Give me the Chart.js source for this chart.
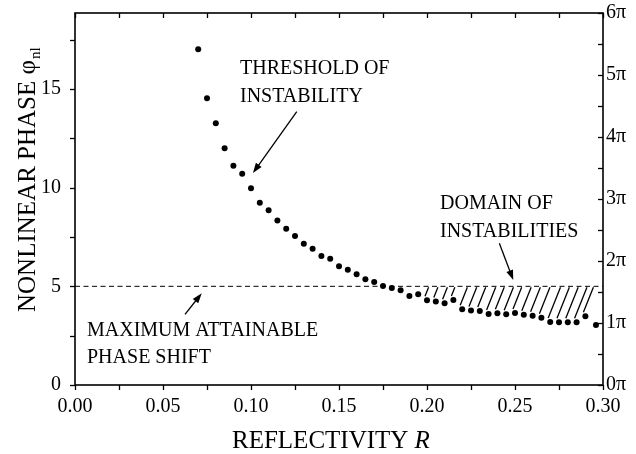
<!DOCTYPE html>
<html>
<head>
<meta charset="utf-8">
<script src="https://cdn.jsdelivr.net/npm/chart.js@4/dist/chart.umd.min.js"></script>
<style>
  html, body { margin: 0; padding: 0; background: #fff; }
  #wrap { width: 636px; height: 454px; position: relative; }
</style>
</head>
<body>
<div id="wrap"><canvas id="c" width="636" height="454"></canvas></div>
<script>
// ---- data ----
const reflectivity = [0.070,0.075,0.080,0.085,0.090,0.095,0.100,0.105,0.110,0.115,
  0.120,0.125,0.130,0.135,0.140,0.145,0.150,0.155,0.160,0.165,
  0.170,0.175,0.180,0.185,0.190,0.195,0.200,0.205,0.210,0.215,
  0.220,0.225,0.230,0.235,0.240,0.245,0.250,0.255,0.260,0.265,
  0.270,0.275,0.280,0.285,0.290,0.296];
const thresholdPhase = [17.01,14.53,13.26,12.00,11.11,10.71,9.97,9.24,8.85,8.33,
  7.92,7.55,7.16,6.91,6.54,6.40,6.02,5.84,5.61,5.36,
  5.22,5.02,4.92,4.80,4.51,4.60,4.29,4.23,4.14,4.31,
  3.84,3.77,3.75,3.60,3.63,3.58,3.65,3.56,3.51,3.41,
  3.19,3.18,3.18,3.18,3.48,3.04];
const maxAttainablePhase = 5.0;
const xRange = [0, 0.30];
const xTickValues = [0, 0.05, 0.10, 0.15, 0.20, 0.25, 0.30];
const xTickLabels = ['0.00','0.05','0.10','0.15','0.20','0.25','0.30'];
const yTickValues = [0, 5, 10, 15];
const yTickLabels = ['0','5','10','15'];
const piTickValues = [0,1,2,3,4,5,6];
const piTickLabels = ['0\u03c0','1\u03c0','2\u03c0','3\u03c0','4\u03c0','5\u03c0','6\u03c0'];
const yMax = 6 * Math.PI;

const SERIF = '"Liberation Serif", "DejaVu Serif", serif';
const tickFont = { family: SERIF, size: 20 };

const annotations = [
  { lines: ['THRESHOLD OF', 'INSTABILITY'], x: 240, y: 74, dy: 28,
    arrow: { from: [0.1260, 13.85], to: [0.1011, 10.74] } },
  { lines: ['DOMAIN OF', 'INSTABILITIES'], x: 440, y: 209, dy: 28,
    arrow: { from: [0.2411, 7.18], to: [0.2490, 5.32] } },
  { lines: ['MAXIMUM ATTAINABLE', 'PHASE SHIFT'], x: 87, y: 336, dy: 27,
    arrow: { from: [0.0625, 3.58], to: [0.0720, 4.65] } }
];

function arrow(ctx, x1, y1, x2, y2) {
  const a = Math.atan2(y2 - y1, x2 - x1), L = 10, W = 3.5;
  ctx.beginPath(); ctx.moveTo(x1, y1);
  ctx.lineTo(x2 - L * 0.8 * Math.cos(a), y2 - L * 0.8 * Math.sin(a)); ctx.stroke();
  ctx.beginPath();
  ctx.moveTo(x2, y2);
  ctx.lineTo(x2 - L * Math.cos(a) + W * Math.sin(a), y2 - L * Math.sin(a) - W * Math.cos(a));
  ctx.lineTo(x2 - L * Math.cos(a) - W * Math.sin(a), y2 - L * Math.sin(a) + W * Math.cos(a));
  ctx.closePath(); ctx.fill();
}

const decor = {
  id: 'decor',
  beforeDatasetsDraw(chart) {
    const { ctx, chartArea: ca, scales } = chart;
    const xs = scales.x, ys = scales.y;
    ctx.save();
    // hatching of the domain of instabilities
    ctx.strokeStyle = '#000'; ctx.lineWidth = 1.3;
    const yLine = ys.getPixelForValue(maxAttainablePhase);
    reflectivity.forEach((r, i) => {
      const p = thresholdPhase[i];
      if (r < 0.199 || p >= maxAttainablePhase) return;
      const xb = xs.getPixelForValue(r) - 2;
      const yb = ys.getPixelForValue(p) - 4;
      const yt = yLine + 1;
      if (yb - yt < 3) return;
      const xt = xb + (yb - yt) * 0.4;
      if (xt > ca.right - 2) return;
      ctx.beginPath(); ctx.moveTo(xb, yb); ctx.lineTo(xt, yt); ctx.stroke();
    });
    ctx.restore();
  },
  afterDraw(chart) {
    const { ctx, chartArea: ca, scales } = chart;
    const xs = scales.x, ys = scales.y, y2 = scales.y2;
    ctx.save();
    ctx.strokeStyle = '#000'; ctx.fillStyle = '#000';
    // frame
    ctx.lineWidth = 1.6;
    ctx.strokeRect(ca.left, ca.top, ca.right - ca.left, ca.bottom - ca.top);
    // ticks
    ctx.lineWidth = 1.3;
    const T = 5;
    for (let v = 0; v <= 0.3001; v += 0.025) {
      const px = Math.round(xs.getPixelForValue(v)) + 0.5;
      ctx.beginPath(); ctx.moveTo(px, ca.bottom); ctx.lineTo(px, ca.bottom + T); ctx.stroke();
      ctx.beginPath(); ctx.moveTo(px, ca.top); ctx.lineTo(px, ca.top + T); ctx.stroke();
    }
    for (let v = 0; v <= 17.5001; v += 2.5) {
      const py = Math.round(ys.getPixelForValue(v)) + 0.5;
      ctx.beginPath(); ctx.moveTo(ca.left - T, py); ctx.lineTo(ca.left, py); ctx.stroke();
    }
    for (let v = 0; v <= 6.0001; v += 0.5) {
      const py = Math.round(y2.getPixelForValue(v)) + 0.5;
      ctx.beginPath(); ctx.moveTo(ca.right - T, py); ctx.lineTo(ca.right, py); ctx.stroke();
    }
    // annotations
    ctx.font = '20px ' + SERIF;
    ctx.textBaseline = 'alphabetic'; ctx.textAlign = 'left';
    ctx.lineWidth = 1.3;
    annotations.forEach(a => {
      a.lines.forEach((t, k) => ctx.fillText(t, a.x, a.y + k * a.dy));
      arrow(ctx, xs.getPixelForValue(a.arrow.from[0]), ys.getPixelForValue(a.arrow.from[1]),
                 xs.getPixelForValue(a.arrow.to[0]), ys.getPixelForValue(a.arrow.to[1]));
    });
    // x-axis title
    const x0 = 232;
    ctx.font = '25px ' + SERIF;
    const t1 = 'REFLECTIVITY ';
    const w1 = ctx.measureText(t1).width;
    ctx.fillText(t1, x0, 448);
    ctx.font = 'italic 25px ' + SERIF;
    ctx.fillText('R', x0 + w1, 448);
    // y-axis title (rotated)
    ctx.translate(35, 312);
    ctx.rotate(-Math.PI / 2);
    ctx.font = '25px ' + SERIF;
    const s1 = 'NONLINEAR PHASE \u03c6';
    ctx.fillText(s1, 0, 0);
    const ws = ctx.measureText(s1).width;
    ctx.font = '15px ' + SERIF;
    ctx.fillText('nl', ws + 1, 5);
    ctx.restore();
  }
};

function noPadV(s) { s.paddingTop = 0; s.paddingBottom = 0; }
function noPadH(s) { s.paddingLeft = 0; s.paddingRight = 0; }

new Chart(document.getElementById('c'), {
  type: 'scatter',
  data: {
    datasets: [
      {
        label: 'threshold of instability',
        data: reflectivity.map((r, i) => ({ x: r, y: thresholdPhase[i] })),
        backgroundColor: '#000', borderColor: '#000',
        pointRadius: 3, pointHoverRadius: 3, pointBorderWidth: 0,
        showLine: false
      },
      {
        label: 'maximum attainable phase shift',
        data: [{ x: xRange[0], y: maxAttainablePhase }, { x: xRange[1], y: maxAttainablePhase }],
        showLine: true, borderColor: '#000', borderWidth: 1, borderDash: [5, 3.5],
        pointRadius: 0, fill: false
      }
    ]
  },
  options: {
    responsive: false, animation: false,
    layout: { padding: { top: 13, left: 0, right: 0, bottom: 0 } },
    plugins: { legend: { display: false }, tooltip: { enabled: false }, title: { display: false } },
    scales: {
      x: {
        type: 'linear', position: 'bottom', min: xRange[0], max: xRange[1],
        afterBuildTicks: s => { s.ticks = xTickValues.map(v => ({ value: v })); },
        afterFit: s => { s.height = 69; noPadH(s); },
        ticks: { font: tickFont, color: '#000', padding: 10, maxRotation: 0,
          callback: v => { const i = xTickValues.findIndex(t => Math.abs(t - v) < 1e-9); return i >= 0 ? xTickLabels[i] : ''; } },
        grid: { display: false, drawTicks: false },
        border: { display: false }
      },
      y: {
        type: 'linear', position: 'left', min: 0, max: yMax,
        afterBuildTicks: s => { s.ticks = yTickValues.map(v => ({ value: v })); },
        afterFit: s => { s.width = 75; noPadV(s); },
        ticks: { font: tickFont, color: '#000', padding: 14,
          callback: v => { const i = yTickValues.indexOf(v); return i >= 0 ? yTickLabels[i] : ''; } },
        grid: { display: false, drawTicks: false },
        border: { display: false }
      },
      y2: {
        type: 'linear', position: 'right', min: 0, max: 6,
        afterBuildTicks: s => { s.ticks = piTickValues.map(v => ({ value: v })); },
        afterFit: s => { s.width = 33; noPadV(s); },
        ticks: { font: tickFont, color: '#000', padding: 3,
          callback: v => { const i = piTickValues.indexOf(v); return i >= 0 ? piTickLabels[i] : ''; } },
        grid: { display: false, drawTicks: false },
        border: { display: false }
      }
    }
  },
  plugins: [decor]
});
</script>
</body>
</html>
